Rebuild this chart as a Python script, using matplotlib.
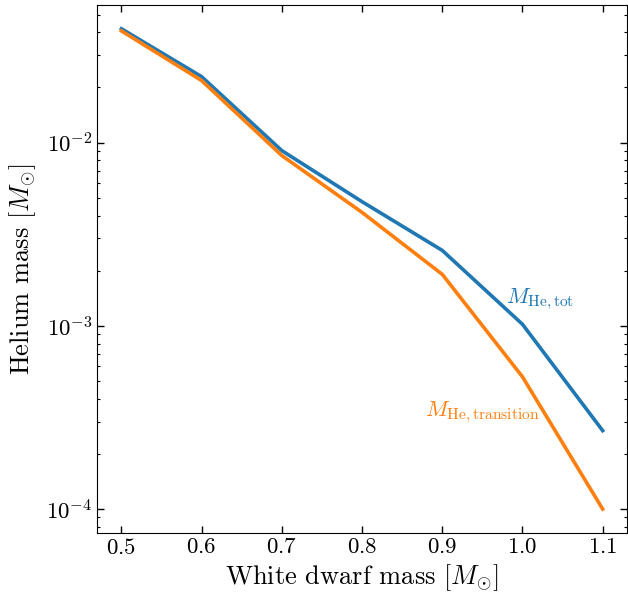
import matplotlib
matplotlib.use("Agg")
import matplotlib.pyplot as plt

plt.rcParams["font.family"] = "serif"
plt.rcParams["font.serif"] = ["cmr10"]
plt.rcParams["mathtext.fontset"] = "cm"
plt.rcParams["axes.formatter.use_mathtext"] = True

wd_mass = [0.5, 0.6, 0.7, 0.8, 0.9, 1.0, 1.1]
he_tot = [0.0418, 0.0229, 0.00904, 0.00476, 0.00258, 0.00102, 0.000268]
he_transition = [0.0407, 0.0218, 0.0085, 0.00416, 0.00191, 0.000527, 0.0001]

fig, ax = plt.subplots(figsize=(6.28, 5.93), dpi=100)

ax.plot(wd_mass, he_tot, color="tab:blue", lw=2.6)
ax.plot(wd_mass, he_transition, color="tab:orange", lw=2.6)
ax.set_yscale("log")

ax.text(0.980, 1.39e-3, r"$M_{\rm He,tot}$", color="tab:blue", fontsize=16, va="center")
ax.text(0.878, 3.36e-4, r"$M_{\rm He,transition}$", color="tab:orange", fontsize=16, va="center")

ax.set_xlabel(r"White dwarf mass [$M_{\odot}$]", fontsize=19, labelpad=3)
ax.set_ylabel(r"Helium mass [$M_{\odot}$]", fontsize=19, labelpad=6)

ax.tick_params(which="both", direction="in", top=True, right=True, labelsize=16.5)
ax.tick_params(which="major", length=5, width=1)
ax.tick_params(which="minor", length=2.5, width=0.8)
ax.set_xticks([0.5, 0.6, 0.7, 0.8, 0.9, 1.0, 1.1])

fig.subplots_adjust(left=0.155, right=0.998, top=0.992, bottom=0.101)
fig.savefig("out.png")
